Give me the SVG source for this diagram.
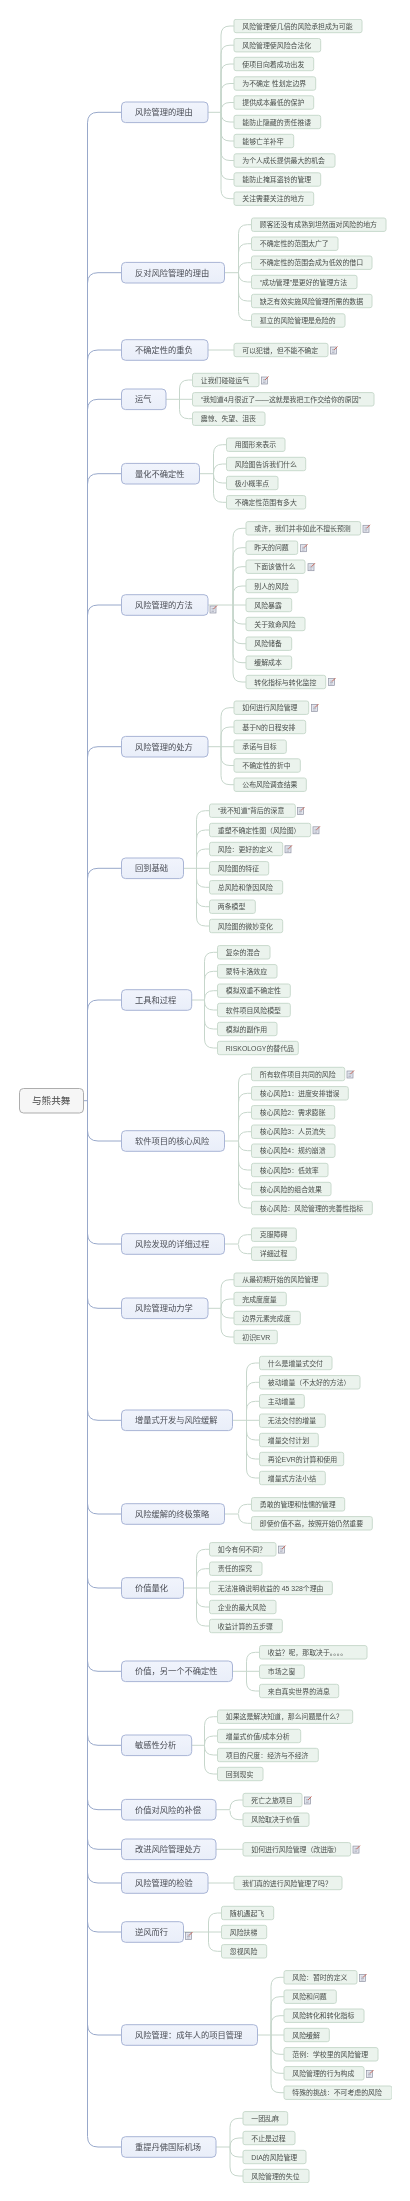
<svg xmlns="http://www.w3.org/2000/svg" width="410" height="2201" viewBox="0 0 410 2201">
<style>
text{font-family:"Liberation Sans","Noto Sans CJK SC",sans-serif;fill:#4a4f4c}
.l rect{fill:#ebf3ed;stroke:#c9dacd;stroke-width:1}
.l text{font-size:6.9px}
.b rect{fill:url(#bg);stroke:#a9b5d6;stroke-width:1}
.b text{font-size:8.25px;fill:#4a4d55}
.r rect{fill:#f6f6f6;stroke:#adadad;stroke-width:1}
.r text{font-size:9.6px;fill:#444}
#connectors path{fill:none;stroke-width:1}
.t{stroke:#98a8ca}
.g{stroke:#c6d6cb}
</style>
<defs>
<linearGradient id="bg" x1="0" y1="0" x2="0" y2="1"><stop offset="0" stop-color="#f1f4fc"/><stop offset="1" stop-color="#e9eef9"/></linearGradient>
<filter id="soft" x="0" y="0" width="1" height="1"><feGaussianBlur stdDeviation="0.3"/></filter>
<g id="note"><rect x="0.5" y="1.5" width="6" height="7" fill="#e4e6ee" stroke="#8f93a3" stroke-width="0.7"/><path d="M2 4H5M2 5.5H5M2 7H4.5" stroke="#8f93a3" stroke-width="0.5" fill="none"/><path d="M4 4.5L7.5 1" stroke="#c96a5c" stroke-width="1" fill="none"/></g>
</defs>
<rect width="410" height="2201" fill="#fff"/>
<g filter="url(#soft)">
<g id="connectors">
<path class="t" d="M83.5 1100.7H87.5M121.5 112.3H98q-10.5 0-10.5 10.5V2136.5q0 10.5 10.5 10.5H121.5M121.5 272.7H98q-10.5 0-10.5 10.5M121.5 350H98q-10.5 0-10.5 10.5M121.5 399.3H98q-10.5 0-10.5 10.5M121.5 473.7H98q-10.5 0-10.5 10.5M121.5 605H98q-10.5 0-10.5 10.5M121.5 746.7H98q-10.5 0-10.5 10.5M121.5 868.3H98q-10.5 0-10.5 10.5M121.5 1000H98q-10.5 0-10.5 10.5M121.5 1141H98q-10.5 0-10.5-10.5M121.5 1244H98q-10.5 0-10.5-10.5M121.5 1308.3H98q-10.5 0-10.5-10.5M121.5 1420.3H98q-10.5 0-10.5-10.5M121.5 1514H98q-10.5 0-10.5-10.5M121.5 1588H98q-10.5 0-10.5-10.5M121.5 1671.3H98q-10.5 0-10.5-10.5M121.5 1745.3H98q-10.5 0-10.5-10.5M121.5 1809.7H98q-10.5 0-10.5-10.5M121.5 1849.3H98q-10.5 0-10.5-10.5M121.5 1883H98q-10.5 0-10.5-10.5M121.5 1932H98q-10.5 0-10.5-10.5M121.5 2035H98q-10.5 0-10.5-10.5"/>
<path class="g" d="M208 112.3H221M234 26h-4q-9 0-9 9V112.3M234 45.2h-4q-9 0-9 9V112.3M234 64h-4q-9 0-9 9V112.3M234 83.5h-4q-9 0-9 9V112.3M234 102.5h-4q-9 0-9 9V112.3M234 122h-4q-9 0-9-9V112.3M234 141h-4q-9 0-9-9V112.3M234 160.5h-4q-9 0-9-9V112.3M234 179.5h-4q-9 0-9-9V112.3M234 198.7h-4q-9 0-9-9V112.3"/>
<path class="g" d="M224.5 272.7H238.5M251.5 224.7h-4q-9 0-9 9V272.7M251.5 243.7h-4q-9 0-9 9V272.7M251.5 262.7h-4q-9 0-9 9V272.7M251.5 282h-4q-9 0-9-9V272.7M251.5 301h-4q-9 0-9-9V272.7M251.5 320.5h-4q-9 0-9-9V272.7"/>
<path class="g" d="M208 350H234"/>
<path class="g" d="M166 399.3H192.5M192.5 380h-4q-9 0-9 9V399.3M192.5 418.7h-4q-9 0-9-9V399.3"/>
<path class="g" d="M199.5 473.7H213.5M226.5 444.7h-4q-9 0-9 9V473.7M226.5 464h-4q-9 0-9 9V473.7M226.5 483h-4q-9 0-9-9V473.7M226.5 502.3h-4q-9 0-9-9V473.7"/>
<path class="g" d="M208 605H246M246 528.3h-4q-9 0-9 9V605M246 547.7h-4q-9 0-9 9V605M246 566.7h-4q-9 0-9 9V605M246 586h-4q-9 0-9 9V605M246 624h-4q-9 0-9-9V605M246 643.7h-4q-9 0-9-9V605M246 662.7h-4q-9 0-9-9V605M246 682h-4q-9 0-9-9V605"/>
<path class="g" d="M208 746.7H234M234 707.7h-4q-9 0-9 9V746.7M234 727h-4q-9 0-9 9V746.7M234 765.5h-4q-9 0-9-9V746.7M234 784.7h-4q-9 0-9-9V746.7"/>
<path class="g" d="M183.5 868.3H209.5M209.5 810.7h-4q-9 0-9 9V868.3M209.5 830h-4q-9 0-9 9V868.3M209.5 849h-4q-9 0-9 9V868.3M209.5 887.3h-4q-9 0-9-9V868.3M209.5 906.7h-4q-9 0-9-9V868.3M209.5 926h-4q-9 0-9-9V868.3"/>
<path class="g" d="M191.7 1000H204.5M217.5 952.3h-4q-9 0-9 9V1000M217.5 971.3h-4q-9 0-9 9V1000M217.5 990.7h-4q-9 0-9 9V1000M217.5 1010h-4q-9 0-9-9V1000M217.5 1029h-4q-9 0-9-9V1000M217.5 1048h-4q-9 0-9-9V1000"/>
<path class="g" d="M224.5 1141H238.5M251.5 1074h-4q-9 0-9 9V1141M251.5 1093.3h-4q-9 0-9 9V1141M251.5 1112.3h-4q-9 0-9 9V1141M251.5 1131.7h-4q-9 0-9 9V1141M251.5 1150.7h-4q-9 0-9-9V1141M251.5 1170h-4q-9 0-9-9V1141M251.5 1189h-4q-9 0-9-9V1141M251.5 1208h-4q-9 0-9-9V1141"/>
<path class="g" d="M224.5 1244H238.5M251.5 1234.7h-4q-9 0-9 9M251.5 1253.7h-4q-9 0-9-9"/>
<path class="g" d="M208 1308.3H221M234 1279.7h-4q-9 0-9 9V1308.3M234 1299h-4q-9 0-9 9M234 1318h-4q-9 0-9-9V1308.3M234 1337h-4q-9 0-9-9V1308.3"/>
<path class="g" d="M232.5 1420.3H259.5M259.5 1363h-4q-9 0-9 9V1420.3M259.5 1382.3h-4q-9 0-9 9V1420.3M259.5 1401.3h-4q-9 0-9 9V1420.3M259.5 1440h-4q-9 0-9-9V1420.3M259.5 1459h-4q-9 0-9-9V1420.3M259.5 1478h-4q-9 0-9-9V1420.3"/>
<path class="g" d="M224.5 1514H238.5M251.5 1504.3h-4q-9 0-9 9M251.5 1523.3h-4q-9 0-9-9"/>
<path class="g" d="M183.5 1588H209.5M209.5 1549.3h-4q-9 0-9 9V1588M209.5 1568.7h-4q-9 0-9 9V1588M209.5 1607h-4q-9 0-9-9V1588M209.5 1626h-4q-9 0-9-9V1588"/>
<path class="g" d="M232.5 1671.3H259.5M259.5 1652.3h-4q-9 0-9 9V1671.3M259.5 1691h-4q-9 0-9-9V1671.3"/>
<path class="g" d="M191.7 1745.3H204.5M217.5 1716.7h-4q-9 0-9 9V1745.3M217.5 1736h-4q-9 0-9 9M217.5 1755h-4q-9 0-9-9V1745.3M217.5 1774h-4q-9 0-9-9V1745.3"/>
<path class="g" d="M216 1809.7H230M243 1800h-4q-9 0-9 9M243 1819.7h-4q-9 0-9-9"/>
<path class="g" d="M216 1849.3H243"/>
<path class="g" d="M208 1883H234"/>
<path class="g" d="M183.5 1932H221.5M221.5 1913h-4q-9 0-9 9V1932M221.5 1951.3h-4q-9 0-9-9V1932"/>
<path class="g" d="M257.5 2035H284M284 1977.3h-4q-9 0-9 9V2035M284 1996.7h-4q-9 0-9 9V2035M284 2015.7h-4q-9 0-9 9V2035M284 2054.3h-4q-9 0-9-9V2035M284 2073.3h-4q-9 0-9-9V2035M284 2092.7h-4q-9 0-9-9V2035"/>
<path class="g" d="M216 2147H230M243 2118.3h-4q-9 0-9 9V2147M243 2138h-4q-9 0-9 9M243 2157h-4q-9 0-9-9V2147M243 2176h-4q-9 0-9-9V2147"/>
</g>
<g id="root" class="r"><rect x="19.5" y="1088.5" width="64" height="24.5" rx="4"/><text x="32" y="1104.2">与熊共舞</text></g>

<g id="b1" class="b"><rect x="121.5" y="102" width="86.5" height="20.6" rx="4"/><text x="135" y="115.3">风险管理的理由</text></g>
<g id="b1-1" class="l"><rect x="234" y="19.3" width="128" height="13.4" rx="2"/><text x="242.3" y="28.5">风险管理使几倍的风险承担成为可能</text></g>
<g id="b1-2" class="l"><rect x="234" y="38.5" width="86.7" height="13.4" rx="2"/><text x="242.3" y="47.7">风险管理使风险合法化</text></g>
<g id="b1-3" class="l"><rect x="234" y="57.3" width="79.7" height="13.4" rx="2"/><text x="242.3" y="66.5">使项目向着成功出发</text></g>
<g id="b1-4" class="l"><rect x="234" y="76.8" width="81.7" height="13.4" rx="2"/><text x="242.3" y="86">为不确定 性划定边界</text></g>
<g id="b1-5" class="l"><rect x="234" y="95.8" width="79.7" height="13.4" rx="2"/><text x="242.3" y="105">提供成本最低的保护</text></g>
<g id="b1-6" class="l"><rect x="234" y="115.3" width="86.7" height="13.4" rx="2"/><text x="242.3" y="124.5">能防止隐藏的责任推诿</text></g>
<g id="b1-7" class="l"><rect x="234" y="134.3" width="59.7" height="13.4" rx="2"/><text x="242.3" y="143.5">能够亡羊补牢</text></g>
<g id="b1-8" class="l"><rect x="234" y="153.8" width="101" height="13.4" rx="2"/><text x="242.3" y="163">为个人成长提供最大的机会</text></g>
<g id="b1-9" class="l"><rect x="234" y="172.8" width="86.7" height="13.4" rx="2"/><text x="242.3" y="182">能防止掩耳盗铃的管理</text></g>
<g id="b1-10" class="l"><rect x="234" y="192" width="79.7" height="13.4" rx="2"/><text x="242.3" y="201.2">关注需要关注的地方</text></g>

<g id="b2" class="b"><rect x="121.5" y="262.4" width="103" height="20.6" rx="4"/><text x="135" y="275.7">反对风险管理的理由</text></g>
<g id="b2-1" class="l"><rect x="251.5" y="218" width="134.5" height="13.4" rx="2"/><text x="259.8" y="227.2">顾客还没有成熟到坦然面对风险的地方</text></g>
<g id="b2-2" class="l"><rect x="251.5" y="237" width="86.5" height="13.4" rx="2"/><text x="259.8" y="246.2">不确定性的范围太广了</text></g>
<g id="b2-3" class="l"><rect x="251.5" y="256" width="120.5" height="13.4" rx="2"/><text x="259.8" y="265.2">不确定性的范围会成为低效的借口</text></g>
<g id="b2-4" class="l"><rect x="251.5" y="275.3" width="105.5" height="13.4" rx="2"/><text x="259.8" y="284.5">“成功管理”是更好的管理方法</text></g>
<g id="b2-5" class="l"><rect x="251.5" y="294.3" width="120.5" height="13.4" rx="2"/><text x="259.8" y="303.5">缺乏有效实施风险管理所需的数据</text></g>
<g id="b2-6" class="l"><rect x="251.5" y="313.8" width="93.5" height="13.4" rx="2"/><text x="259.8" y="323">孤立的风险管理是危险的</text></g>

<g id="b3" class="b"><rect x="121.5" y="339.7" width="86.5" height="20.6" rx="4"/><text x="135" y="353">不确定性的重负</text></g>
<g id="b3-1" class="l"><rect x="234" y="343.3" width="94" height="13.4" rx="2"/><text x="242.3" y="352.5">可以犯错，但不能不确定</text><use href="#note" x="330" y="345.5"/></g>

<g id="b4" class="b"><rect x="121.5" y="389" width="44.5" height="20.6" rx="4"/><text x="135" y="402.3">运气</text></g>
<g id="b4-1" class="l"><rect x="192.5" y="373.3" width="66.5" height="13.4" rx="2"/><text x="200.8" y="382.5">让我们碰碰运气</text><use href="#note" x="261" y="375.5"/></g>
<g id="b4-2" class="l"><rect x="192.5" y="392.6" width="181.5" height="13.4" rx="2"/><text x="200.8" y="401.8">“我知道4月很近了——这就是我把工作交给你的原因”</text></g>
<g id="b4-3" class="l"><rect x="192.5" y="412" width="72.5" height="13.4" rx="2"/><text x="200.8" y="421.2">震惊、失望、沮丧</text></g>

<g id="b5" class="b"><rect x="121.5" y="463.4" width="78" height="20.6" rx="4"/><text x="135" y="476.7">量化不确定性</text></g>
<g id="b5-1" class="l"><rect x="226.5" y="438" width="58.5" height="13.4" rx="2"/><text x="234.8" y="447.2">用图形来表示</text></g>
<g id="b5-2" class="l"><rect x="226.5" y="457.3" width="79.2" height="13.4" rx="2"/><text x="234.8" y="466.5">风险图告诉我们什么</text></g>
<g id="b5-3" class="l"><rect x="226.5" y="476.3" width="51.5" height="13.4" rx="2"/><text x="234.8" y="485.5">极小概率点</text></g>
<g id="b5-4" class="l"><rect x="226.5" y="495.6" width="79.2" height="13.4" rx="2"/><text x="234.8" y="504.8">不确定性范围有多大</text></g>

<g id="b6" class="b"><rect x="121.5" y="594.7" width="86.5" height="20.6" rx="4"/><text x="135" y="608">风险管理的方法</text><use href="#note" x="209.5" y="604.5"/></g>
<g id="b6-1" class="l"><rect x="246" y="521.6" width="114.7" height="13.4" rx="2"/><text x="254.3" y="530.8">或许，我们并非如此不擅长预测</text><use href="#note" x="362.5" y="523.8"/></g>
<g id="b6-2" class="l"><rect x="246" y="541" width="51.7" height="13.4" rx="2"/><text x="254.3" y="550.2">昨天的问题</text><use href="#note" x="300" y="543.2"/></g>
<g id="b6-3" class="l"><rect x="246" y="560" width="59" height="13.4" rx="2"/><text x="254.3" y="569.2">下面该做什么</text><use href="#note" x="307.5" y="562.2"/></g>
<g id="b6-4" class="l"><rect x="246" y="579.3" width="52" height="13.4" rx="2"/><text x="254.3" y="588.5">别人的风险</text></g>
<g id="b6-5" class="l"><rect x="246" y="598.3" width="45.7" height="13.4" rx="2"/><text x="254.3" y="607.5">风险暴露</text></g>
<g id="b6-6" class="l"><rect x="246" y="617.3" width="59" height="13.4" rx="2"/><text x="254.3" y="626.5">关于致命风险</text></g>
<g id="b6-7" class="l"><rect x="246" y="637" width="45.7" height="13.4" rx="2"/><text x="254.3" y="646.2">风险储备</text></g>
<g id="b6-8" class="l"><rect x="246" y="656" width="45.7" height="13.4" rx="2"/><text x="254.3" y="665.2">缓解成本</text></g>
<g id="b6-9" class="l"><rect x="246" y="675.3" width="79.7" height="13.4" rx="2"/><text x="254.3" y="684.5">转化指标与转化监控</text><use href="#note" x="328" y="677"/></g>

<g id="b7" class="b"><rect x="121.5" y="736.4" width="86.5" height="20.6" rx="4"/><text x="135" y="749.7">风险管理的处方</text></g>
<g id="b7-1" class="l"><rect x="234" y="701" width="74.7" height="13.4" rx="2"/><text x="242.3" y="710.2">如何进行风险管理</text><use href="#note" x="311" y="703"/></g>
<g id="b7-2" class="l"><rect x="234" y="720.3" width="71.7" height="13.4" rx="2"/><text x="242.3" y="729.5">基于N的日程安排</text></g>
<g id="b7-3" class="l"><rect x="234" y="740" width="52.3" height="13.4" rx="2"/><text x="242.3" y="749.2">承诺与目标</text></g>
<g id="b7-4" class="l"><rect x="234" y="758.8" width="66.3" height="13.4" rx="2"/><text x="242.3" y="768">不确定性的折中</text></g>
<g id="b7-5" class="l"><rect x="234" y="778" width="72.3" height="13.4" rx="2"/><text x="242.3" y="787.2">公布风险调查结果</text></g>

<g id="b8" class="b"><rect x="121.5" y="858" width="62" height="20.6" rx="4"/><text x="135" y="871.3">回到基础</text></g>
<g id="b8-1" class="l"><rect x="209.5" y="804" width="85.8" height="13.4" rx="2"/><text x="217.8" y="813.2">“我不知道”背后的深意</text><use href="#note" x="297" y="806"/></g>
<g id="b8-2" class="l"><rect x="209.5" y="823.3" width="101.2" height="13.4" rx="2"/><text x="217.8" y="832.5">重塑不确定性图（风险图）</text><use href="#note" x="312.5" y="825.3"/></g>
<g id="b8-3" class="l"><rect x="209.5" y="842.3" width="73.2" height="13.4" rx="2"/><text x="217.8" y="851.5">风险：更好的定义</text><use href="#note" x="284.5" y="844.3"/></g>
<g id="b8-4" class="l"><rect x="209.5" y="861.6" width="59.2" height="13.4" rx="2"/><text x="217.8" y="870.8">风险图的特征</text></g>
<g id="b8-5" class="l"><rect x="209.5" y="880.6" width="73.2" height="13.4" rx="2"/><text x="217.8" y="889.8">总风险和肇因风险</text></g>
<g id="b8-6" class="l"><rect x="209.5" y="900" width="45.8" height="13.4" rx="2"/><text x="217.8" y="909.2">两条模型</text></g>
<g id="b8-7" class="l"><rect x="209.5" y="919.3" width="73.2" height="13.4" rx="2"/><text x="217.8" y="928.5">风险图的微妙变化</text></g>

<g id="b9" class="b"><rect x="121.5" y="989.7" width="70.2" height="20.6" rx="4"/><text x="135" y="1003">工具和过程</text></g>
<g id="b9-1" class="l"><rect x="217.5" y="945.6" width="52.5" height="13.4" rx="2"/><text x="225.8" y="954.8">复杂的混合</text></g>
<g id="b9-2" class="l"><rect x="217.5" y="964.6" width="59.5" height="13.4" rx="2"/><text x="225.8" y="973.8">蒙特卡洛效应</text></g>
<g id="b9-3" class="l"><rect x="217.5" y="984" width="72.8" height="13.4" rx="2"/><text x="225.8" y="993.2">模拟双重不确定性</text></g>
<g id="b9-4" class="l"><rect x="217.5" y="1003.3" width="72.8" height="13.4" rx="2"/><text x="225.8" y="1012.5">软件项目风险模型</text></g>
<g id="b9-5" class="l"><rect x="217.5" y="1022.3" width="59.5" height="13.4" rx="2"/><text x="225.8" y="1031.5">模拟的副作用</text></g>
<g id="b9-6" class="l"><rect x="217.5" y="1041.3" width="80.8" height="13.4" rx="2"/><text x="225.8" y="1050.5">RISKOLOGY的替代品</text></g>

<g id="b10" class="b"><rect x="121.5" y="1130.7" width="103" height="20.6" rx="4"/><text x="135" y="1144">软件项目的核心风险</text></g>
<g id="b10-1" class="l"><rect x="251.5" y="1067.3" width="93.2" height="13.4" rx="2"/><text x="259.8" y="1076.5">所有软件项目共同的风险</text><use href="#note" x="346.5" y="1069.5"/></g>
<g id="b10-2" class="l"><rect x="251.5" y="1086.6" width="96.8" height="13.4" rx="2"/><text x="259.8" y="1095.8">核心风险1：进度安排错误</text></g>
<g id="b10-3" class="l"><rect x="251.5" y="1105.6" width="83.2" height="13.4" rx="2"/><text x="259.8" y="1114.8">核心风险2：需求膨胀</text></g>
<g id="b10-4" class="l"><rect x="251.5" y="1125" width="83.5" height="13.4" rx="2"/><text x="259.8" y="1134.2">核心风险3：人员流失</text></g>
<g id="b10-5" class="l"><rect x="251.5" y="1144" width="83.5" height="13.4" rx="2"/><text x="259.8" y="1153.2">核心风险4：规约崩溃</text></g>
<g id="b10-6" class="l"><rect x="251.5" y="1163.3" width="76.5" height="13.4" rx="2"/><text x="259.8" y="1172.5">核心风险5：低效率</text></g>
<g id="b10-7" class="l"><rect x="251.5" y="1182.3" width="79.5" height="13.4" rx="2"/><text x="259.8" y="1191.5">核心风险的组合效果</text></g>
<g id="b10-8" class="l"><rect x="251.5" y="1201.3" width="120.8" height="13.4" rx="2"/><text x="259.8" y="1210.5">核心风险：风险管理的完善性指标</text></g>

<g id="b11" class="b"><rect x="121.5" y="1233.7" width="103" height="20.6" rx="4"/><text x="135" y="1247">风险发现的详细过程</text></g>
<g id="b11-1" class="l"><rect x="251.5" y="1228" width="44.8" height="13.4" rx="2"/><text x="259.8" y="1237.2">克服障碍</text></g>
<g id="b11-2" class="l"><rect x="251.5" y="1247" width="44.8" height="13.4" rx="2"/><text x="259.8" y="1256.2">详细过程</text></g>

<g id="b12" class="b"><rect x="121.5" y="1298" width="86.5" height="20.6" rx="4"/><text x="135" y="1311.3">风险管理动力学</text></g>
<g id="b12-1" class="l"><rect x="234" y="1273" width="94" height="13.4" rx="2"/><text x="242.3" y="1282.2">从最初期开始的风险管理</text></g>
<g id="b12-2" class="l"><rect x="234" y="1292.3" width="52.3" height="13.4" rx="2"/><text x="242.3" y="1301.5">完成度度量</text></g>
<g id="b12-3" class="l"><rect x="234" y="1311.3" width="66.3" height="13.4" rx="2"/><text x="242.3" y="1320.5">边界元素完成度</text></g>
<g id="b12-4" class="l"><rect x="234" y="1330.3" width="43.3" height="13.4" rx="2"/><text x="242.3" y="1339.5">初识EVR</text></g>

<g id="b13" class="b"><rect x="121.5" y="1410" width="111" height="20.6" rx="4"/><text x="135" y="1423.3">增量式开发与风险缓解</text></g>
<g id="b13-1" class="l"><rect x="259.5" y="1356.3" width="72.5" height="13.4" rx="2"/><text x="267.8" y="1365.5">什么是增量式交付</text></g>
<g id="b13-2" class="l"><rect x="259.5" y="1375.6" width="100.5" height="13.4" rx="2"/><text x="267.8" y="1384.8">被动增量（不太好的方法）</text></g>
<g id="b13-3" class="l"><rect x="259.5" y="1394.6" width="44.8" height="13.4" rx="2"/><text x="267.8" y="1403.8">主动增量</text></g>
<g id="b13-4" class="l"><rect x="259.5" y="1414" width="65.8" height="13.4" rx="2"/><text x="267.8" y="1423.2">无法交付的增量</text></g>
<g id="b13-5" class="l"><rect x="259.5" y="1433.3" width="58.8" height="13.4" rx="2"/><text x="267.8" y="1442.5">增量交付计划</text></g>
<g id="b13-6" class="l"><rect x="259.5" y="1452.3" width="84.2" height="13.4" rx="2"/><text x="267.8" y="1461.5">再论EVR的计算和使用</text></g>
<g id="b13-7" class="l"><rect x="259.5" y="1471.3" width="65.8" height="13.4" rx="2"/><text x="267.8" y="1480.5">增量式方法小结</text></g>

<g id="b14" class="b"><rect x="121.5" y="1503.7" width="103" height="20.6" rx="4"/><text x="135" y="1517">风险缓解的终极策略</text></g>
<g id="b14-1" class="l"><rect x="251.5" y="1497.6" width="93.2" height="13.4" rx="2"/><text x="259.8" y="1506.8">勇敢的管理和怯懦的管理</text></g>
<g id="b14-2" class="l"><rect x="251.5" y="1516.6" width="120.8" height="13.4" rx="2"/><text x="259.8" y="1525.8">即使价值不高，按照开始仍然重要</text></g>

<g id="b15" class="b"><rect x="121.5" y="1577.7" width="62" height="20.6" rx="4"/><text x="135" y="1591">价值量化</text></g>
<g id="b15-1" class="l"><rect x="209.5" y="1542.6" width="66.5" height="13.4" rx="2"/><text x="217.8" y="1551.8">如今有何不同？</text><use href="#note" x="278" y="1544.6"/></g>
<g id="b15-2" class="l"><rect x="209.5" y="1562" width="52.5" height="13.4" rx="2"/><text x="217.8" y="1571.2">责任的探究</text></g>
<g id="b15-3" class="l"><rect x="209.5" y="1581.3" width="122.8" height="13.4" rx="2"/><text x="217.8" y="1590.5">无法准确说明收益的 45 328个理由</text></g>
<g id="b15-4" class="l"><rect x="209.5" y="1600.3" width="66.5" height="13.4" rx="2"/><text x="217.8" y="1609.5">企业的最大风险</text></g>
<g id="b15-5" class="l"><rect x="209.5" y="1619.3" width="72.8" height="13.4" rx="2"/><text x="217.8" y="1628.5">收益计算的五步骤</text></g>

<g id="b16" class="b"><rect x="121.5" y="1661" width="111" height="20.6" rx="4"/><text x="135" y="1674.3">价值，另一个不确定性</text></g>
<g id="b16-1" class="l"><rect x="259.5" y="1645.6" width="107.5" height="13.4" rx="2"/><text x="267.8" y="1654.8">收益？呢，那取决于。。。。</text></g>
<g id="b16-2" class="l"><rect x="259.5" y="1665" width="44.8" height="13.4" rx="2"/><text x="267.8" y="1674.2">市场之窗</text></g>
<g id="b16-3" class="l"><rect x="259.5" y="1684.3" width="79.2" height="13.4" rx="2"/><text x="267.8" y="1693.5">来自真实世界的消息</text></g>

<g id="b17" class="b"><rect x="121.5" y="1735" width="70.2" height="20.6" rx="4"/><text x="135" y="1748.3">敏感性分析</text></g>
<g id="b17-1" class="l"><rect x="217.5" y="1710" width="135.2" height="13.4" rx="2"/><text x="225.8" y="1719.2">如果这是解决知道，那么问题是什么？</text></g>
<g id="b17-2" class="l"><rect x="217.5" y="1729.3" width="83.2" height="13.4" rx="2"/><text x="225.8" y="1738.5">增量式价值/成本分析</text></g>
<g id="b17-3" class="l"><rect x="217.5" y="1748.3" width="100.8" height="13.4" rx="2"/><text x="225.8" y="1757.5">项目的尺度：经济与不经济</text></g>
<g id="b17-4" class="l"><rect x="217.5" y="1767.3" width="45.5" height="13.4" rx="2"/><text x="225.8" y="1776.5">回到现实</text></g>

<g id="b18" class="b"><rect x="121.5" y="1799.4" width="94.5" height="20.6" rx="4"/><text x="135" y="1812.7">价值对风险的补偿</text></g>
<g id="b18-1" class="l"><rect x="243" y="1793.3" width="59" height="13.4" rx="2"/><text x="251.3" y="1802.5">死亡之旅项目</text><use href="#note" x="304" y="1795.5"/></g>
<g id="b18-2" class="l"><rect x="243" y="1813" width="66" height="13.4" rx="2"/><text x="251.3" y="1822.2">风险取决于价值</text></g>

<g id="b19" class="b"><rect x="121.5" y="1839" width="94.5" height="20.6" rx="4"/><text x="135" y="1852.3">改进风险管理处方</text></g>
<g id="b19-1" class="l"><rect x="243" y="1842.6" width="107.7" height="13.4" rx="2"/><text x="251.3" y="1851.8">如何进行风险管理（改进版）</text><use href="#note" x="352.5" y="1844.6"/></g>

<g id="b20" class="b"><rect x="121.5" y="1872.7" width="86.5" height="20.6" rx="4"/><text x="135" y="1886">风险管理的检验</text></g>
<g id="b20-1" class="l"><rect x="234" y="1876.3" width="108" height="13.4" rx="2"/><text x="242.3" y="1885.5">我们真的进行风险管理了吗？</text></g>

<g id="b21" class="b"><rect x="121.5" y="1921.7" width="62" height="20.6" rx="4"/><text x="135" y="1935">逆风而行</text><use href="#note" x="185" y="1931"/></g>
<g id="b21-1" class="l"><rect x="221.5" y="1906.3" width="52.2" height="13.4" rx="2"/><text x="229.8" y="1915.5">随机遇起飞</text></g>
<g id="b21-2" class="l"><rect x="221.5" y="1925.3" width="45.2" height="13.4" rx="2"/><text x="229.8" y="1934.5">风险扶梯</text></g>
<g id="b21-3" class="l"><rect x="221.5" y="1944.6" width="45.2" height="13.4" rx="2"/><text x="229.8" y="1953.8">忽视风险</text></g>

<g id="b22" class="b"><rect x="121.5" y="2024.7" width="136" height="20.6" rx="4"/><text x="135" y="2038">风险管理：成年人的项目管理</text></g>
<g id="b22-1" class="l"><rect x="284" y="1970.6" width="73" height="13.4" rx="2"/><text x="292.3" y="1979.8">风险：暂时的定义</text><use href="#note" x="359" y="1973"/></g>
<g id="b22-2" class="l"><rect x="284" y="1990" width="52.3" height="13.4" rx="2"/><text x="292.3" y="1999.2">风险和问题</text></g>
<g id="b22-3" class="l"><rect x="284" y="2009" width="80" height="13.4" rx="2"/><text x="292.3" y="2018.2">风险转化和转化指标</text></g>
<g id="b22-4" class="l"><rect x="284" y="2028.3" width="45.3" height="13.4" rx="2"/><text x="292.3" y="2037.5">风险缓解</text></g>
<g id="b22-5" class="l"><rect x="284" y="2047.6" width="94" height="13.4" rx="2"/><text x="292.3" y="2056.8">范例：学校里的风险管理</text></g>
<g id="b22-6" class="l"><rect x="284" y="2066.6" width="80" height="13.4" rx="2"/><text x="292.3" y="2075.8">风险管理的行为构成</text><use href="#note" x="366" y="2069"/></g>
<g id="b22-7" class="l"><rect x="284" y="2086" width="108" height="13.4" rx="2"/><text x="292.3" y="2095.2">特殊的挑战：不可考虑的风险</text></g>

<g id="b23" class="b"><rect x="121.5" y="2136.7" width="94.5" height="20.6" rx="4"/><text x="135" y="2150">重提丹佛国际机场</text></g>
<g id="b23-1" class="l"><rect x="243" y="2111.6" width="44.7" height="13.4" rx="2"/><text x="251.3" y="2120.8">一团乱麻</text></g>
<g id="b23-2" class="l"><rect x="243" y="2131.3" width="52" height="13.4" rx="2"/><text x="251.3" y="2140.5">不止是过程</text></g>
<g id="b23-3" class="l"><rect x="243" y="2150.3" width="63" height="13.4" rx="2"/><text x="251.3" y="2159.5">DIA的风险管理</text></g>
<g id="b23-4" class="l"><rect x="243" y="2169.3" width="66" height="13.4" rx="2"/><text x="251.3" y="2178.5">风险管理的失位</text></g>
</g>
</svg>
